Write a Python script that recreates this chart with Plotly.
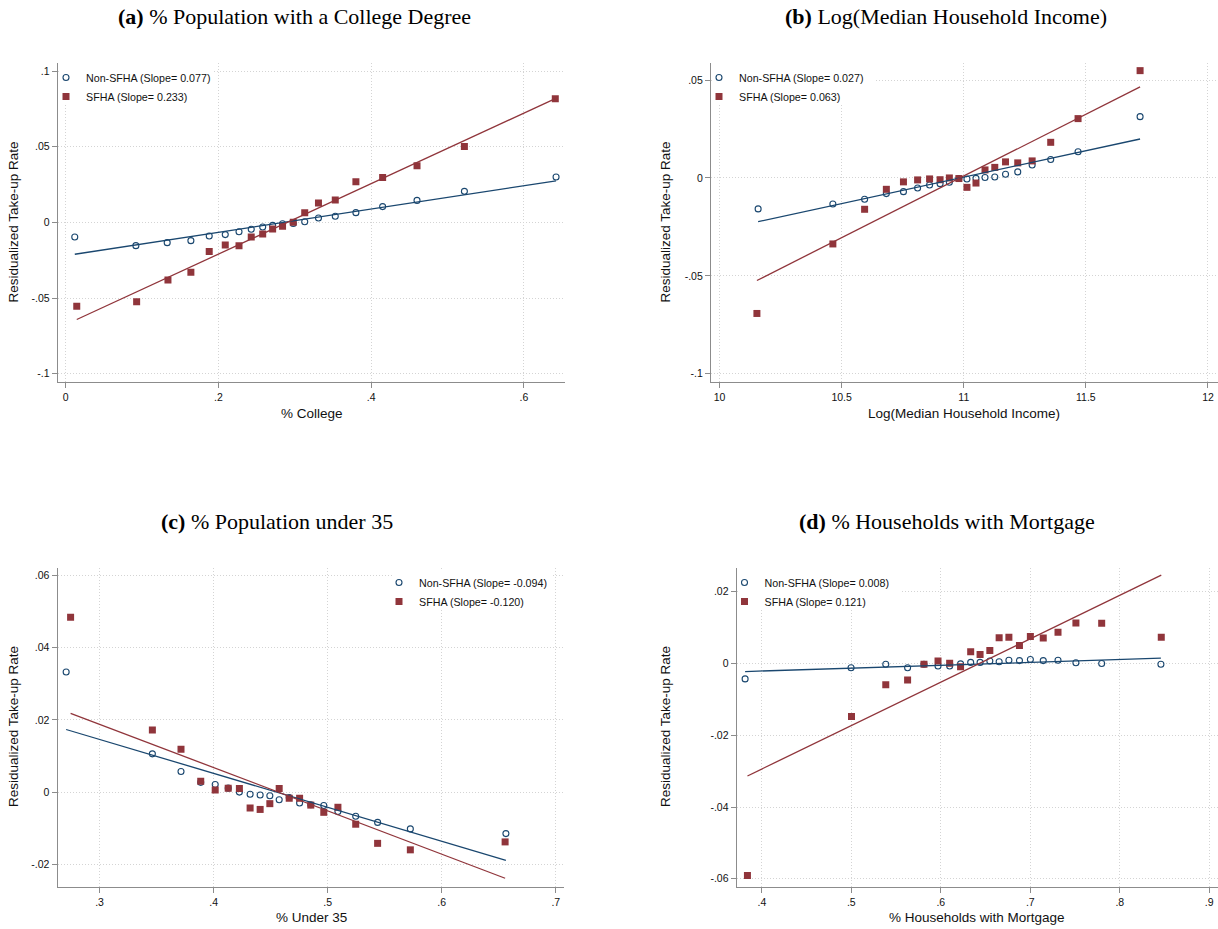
import plotly.graph_objects as go

W, H = 1218, 929

# ---------------- data ----------------
# (a) % College
a_x_non = [0.012, 0.092, 0.133, 0.164, 0.188, 0.209, 0.227, 0.243, 0.258, 0.271,
           0.284, 0.298, 0.313, 0.331, 0.353, 0.380, 0.415, 0.460, 0.522, 0.642]
a_y_non = [-0.0097, -0.0154, -0.0134, -0.0121, -0.0090, -0.0081, -0.0062, -0.0046, -0.0031, -0.0020,
           -0.0009, -0.0007, 0.0004, 0.0029, 0.0040, 0.0064, 0.0104, 0.0145, 0.0205, 0.0300]
a_x_sfha = [0.0146, 0.093, 0.134, 0.164, 0.188, 0.209, 0.227, 0.243, 0.258, 0.271,
            0.284, 0.298, 0.313, 0.331, 0.353, 0.380, 0.415, 0.460, 0.522, 0.641]
a_y_sfha = [-0.0555, -0.0524, -0.0381, -0.0330, -0.0192, -0.0150, -0.0154, -0.0097, -0.0077, -0.0044,
            -0.0026, 0.0000, 0.0064, 0.0128, 0.0148, 0.0269, 0.0297, 0.0374, 0.0502, 0.0817]
a_slope = [0.077, 0.233]
a_icpt = [-0.0220, -0.0676]

# (b) Log(Median Household Income)
b_x_non = [10.158, 10.464, 10.594, 10.683, 10.753, 10.811, 10.860, 10.903, 10.941, 10.980,
           11.013, 11.050, 11.087, 11.127, 11.171, 11.221, 11.280, 11.356, 11.468, 11.722]
b_y_non = [-0.0158, -0.0133, -0.0109, -0.0080, -0.0070, -0.0051, -0.0036, -0.0029, -0.0022, -0.0003,
           -0.0005, -0.0002, 0.0002, 0.0005, 0.0019, 0.0031, 0.0066, 0.0094, 0.0134, 0.0313]
b_x_sfha = [10.153, 10.464, 10.594, 10.683, 10.753, 10.811, 10.860, 10.903, 10.941, 10.980,
            11.013, 11.050, 11.087, 11.127, 11.171, 11.221, 11.280, 11.356, 11.468, 11.722]
b_y_sfha = [-0.0692, -0.0337, -0.0160, -0.0058, -0.0020, -0.0010, -0.0005, -0.0009, 0.0000, -0.0003,
            -0.0048, -0.0026, 0.0041, 0.0054, 0.0082, 0.0077, 0.0087, 0.0182, 0.0303, 0.0548]
b_slope = [0.027, 0.063]
b_icpt = [-0.2966, -0.6920]

# (c) % Under 35
c_x_non = [0.2707, 0.3463, 0.3714, 0.3887, 0.4014, 0.4128, 0.4226, 0.4320, 0.4408, 0.4493,
           0.4575, 0.4663, 0.4754, 0.4852, 0.4966, 0.5090, 0.5246, 0.5438, 0.5725, 0.6563]
c_y_non = [0.0333, 0.0106, 0.0057, 0.0027, 0.0021, 0.0011, 0.0000, -0.0006, -0.0008, -0.0010,
           -0.0021, -0.0015, -0.0030, -0.0035, -0.0037, -0.0054, -0.0067, -0.0084, -0.0102, -0.0115]
c_x_sfha = [0.2746, 0.3463, 0.3714, 0.3887, 0.4014, 0.4128, 0.4226, 0.4320, 0.4408, 0.4493,
            0.4575, 0.4663, 0.4754, 0.4852, 0.4966, 0.5090, 0.5246, 0.5438, 0.5725, 0.6556]
c_y_sfha = [0.0485, 0.0172, 0.0119, 0.0030, 0.0006, 0.0011, 0.0010, -0.0044, -0.0048, -0.0032,
            0.0010, -0.0017, -0.0017, -0.0036, -0.0056, -0.0042, -0.0089, -0.0142, -0.0160, -0.0138]
c_slope = [-0.094, -0.120]
c_icpt = [0.0428, 0.0548]

# (d) % Households with Mortgage
d_x_non = [0.3813, 0.4997, 0.5385, 0.5629, 0.5812, 0.5969, 0.6099, 0.6221, 0.6334, 0.6439,
           0.6548, 0.6652, 0.6761, 0.6879, 0.7001, 0.7145, 0.7310, 0.7510, 0.7798, 0.8460]
d_y_non = [-0.0043, -0.0012, -0.0002, -0.0012, -0.0002, -0.0007, -0.0007, -0.0001, 0.0003, 0.0003,
           0.0007, 0.0005, 0.0009, 0.0008, 0.0011, 0.0008, 0.0009, 0.0002, 0.0000, -0.0002]
d_x_sfha = [0.3839, 0.5002, 0.5385, 0.5629, 0.5812, 0.5969, 0.6099, 0.6221, 0.6334, 0.6439,
            0.6548, 0.6652, 0.6761, 0.6879, 0.7001, 0.7145, 0.7310, 0.7510, 0.7798, 0.8464]
d_y_sfha = [-0.0591, -0.0148, -0.0059, -0.0046, -0.0002, 0.0007, 0.0001, -0.0009, 0.0033, 0.0025,
            0.0036, 0.0072, 0.0073, 0.0050, 0.0075, 0.0071, 0.0087, 0.0113, 0.0112, 0.0073]
d_slope = [0.008, 0.121]
d_icpt = [-0.0053, -0.0778]

# tick labels
a_xtick = [0, 0.2, 0.4, 0.6]; a_xtext = ["0", ".2", ".4", ".6"]
a_ytick = [-0.1, -0.05, 0, 0.05, 0.1]; a_ytext = ["-.1", "-.05", "0", ".05", ".1"]
b_xtick = [10, 10.5, 11, 11.5, 12]; b_xtext = ["10", "10.5", "11", "11.5", "12"]
b_ytick = [-0.1, -0.05, 0, 0.05]; b_ytext = ["-.1", "-.05", "0", ".05"]
c_xtick = [0.3, 0.4, 0.5, 0.6, 0.7]; c_xtext = [".3", ".4", ".5", ".6", ".7"]
c_ytick = [-0.02, 0, 0.02, 0.04, 0.06]; c_ytext = ["-.02", "0", ".02", ".04", ".06"]
d_xtick = [0.4, 0.5, 0.6, 0.7, 0.8, 0.9]; d_xtext = [".4", ".5", ".6", ".7", ".8", ".9"]
d_ytick = [-0.06, -0.04, -0.02, 0, 0.02]; d_ytext = ["-.06", "-.04", "-.02", "0", ".02"]

titles = ["<b>(a)</b> % Population with a College Degree",
          "<b>(b)</b> Log(Median Household Income)",
          "<b>(c)</b> % Population under 35",
          "<b>(d)</b> % Households with Mortgage"]
xtitles = ["% College", "Log(Median Household Income)", "% Under 35", "% Households with Mortgage"]
ytitle = "Residualized Take-up Rate"
series_names = ["Non-SFHA", "SFHA"]

# ---------------- styling / layout ----------------
NAVY = "#1a476f"
MAROON = "#90353b"
SANS = "Liberation Sans, Arial, Helvetica, sans-serif"
SERIF = "Liberation Serif, Times New Roman, serif"
GRID = "#d4d4d4"
AXC = "#8c8c8c"


def fx(p):
    return p / W


def fy(p):
    return 1 - p / H


panels = [
    dict(xn=a_x_non, yn=a_y_non, xs=a_x_sfha, ys=a_y_sfha, slope=a_slope, icpt=a_icpt,
         xt=a_xtick, xtt=a_xtext, yt=a_ytick, ytt=a_ytext,
         xdom=(57.8, 565), ydom=(63, 382), xr=(-0.0102, 0.6537), yr=(-0.1055, 0.1053),
         leg=(46, 63), mask=(59, 214, 63, 104),
         title=(294, 17), xtitle=(311.5, 413), ytitle=(13, 222.5)),
    dict(xn=b_x_non, yn=b_y_non, xs=b_x_sfha, ys=b_y_sfha, slope=b_slope, icpt=b_icpt,
         xt=b_xtick, xtt=b_xtext, yt=b_ytick, ytt=b_ytext,
         xdom=(711, 1218), ydom=(63, 382), xr=(9.965, 12.041), yr=(-0.1042, 0.0587),
         leg=(699, 63), mask=(712, 875, 63, 104),
         title=(946, 17), xtitle=(964, 413), ytitle=(665, 222.5)),
    dict(xn=c_x_non, yn=c_y_non, xs=c_x_sfha, ys=c_y_sfha, slope=c_slope, icpt=c_icpt,
         xt=c_xtick, xtt=c_xtext, yt=c_ytick, ytt=c_ytext,
         xdom=(57.6, 564.3), ydom=(567.7, 887), xr=(0.2632, 0.7075), yr=(-0.0263, 0.0622),
         leg=(379, 568), mask=(394, 552, 569, 609),
         title=(277, 521), xtitle=(311, 917), ytitle=(13, 727)),
    dict(xn=d_x_non, yn=d_y_non, xs=d_x_sfha, ys=d_y_sfha, slope=d_slope, icpt=d_icpt,
         xt=d_xtick, xtt=d_xtext, yt=d_ytick, ytt=d_ytext,
         xdom=(736.7, 1218), ydom=(567.7, 887), xr=(0.3719, 0.9098), yr=(-0.0623, 0.0267),
         leg=(724.5, 568), mask=(738, 900, 568, 609),
         title=(947, 521), xtitle=(977, 917), ytitle=(665, 727)),
]

fig = go.Figure()
layout = dict(width=W, height=H, margin=dict(l=0, r=0, t=0, b=0),
              paper_bgcolor="white", plot_bgcolor="white", showlegend=True,
              font=dict(family=SANS, color="#111111"))
annotations = []
shapes = []

for i, p in enumerate(panels):
    n = i + 1
    xa = "x" if n == 1 else f"x{n}"
    ya = "y" if n == 1 else f"y{n}"
    legname = "legend" if n == 1 else f"legend{n}"

    lab_n = f"{series_names[0]} (Slope= {p['slope'][0]:.3f})"
    lab_s = f"{series_names[1]} (Slope= {p['slope'][1]:.3f})"

    fig.add_trace(go.Scatter(x=p["xn"], y=p["yn"], mode="markers", name=lab_n,
                             xaxis=xa, yaxis=ya, legend=legname,
                             marker=dict(symbol="circle-open", size=6, color=NAVY,
                                         line=dict(width=1.1, color=NAVY))))
    fig.add_trace(go.Scatter(x=p["xs"], y=p["ys"], mode="markers", name=lab_s,
                             xaxis=xa, yaxis=ya, legend=legname,
                             marker=dict(symbol="square", size=7, color=MAROON)))
    # linear fit lines (from the reported slope and the intercept)
    for xs_, b_, a_, col in [(p["xn"], p["slope"][0], p["icpt"][0], NAVY),
                             (p["xs"], p["slope"][1], p["icpt"][1], MAROON)]:
        x0, x1 = min(xs_), max(xs_)
        fig.add_trace(go.Scatter(x=[x0, x1], y=[a_ + b_ * x0, a_ + b_ * x1], mode="lines",
                                 xaxis=xa, yaxis=ya, showlegend=False, hoverinfo="skip",
                                 line=dict(color=col, width=1.3)))

    axcommon = dict(showline=True, linecolor=AXC, linewidth=1.2, ticks="outside",
                    ticklen=5, tickcolor=AXC, tickwidth=1, showgrid=True, gridcolor=GRID,
                    gridwidth=1, griddash="1px,2px", zeroline=False,
                    tickfont=dict(family=SANS, size=10.5, color="#111111"),
                    tickmode="array")
    layout["xaxis" if n == 1 else f"xaxis{n}"] = dict(
        axcommon, domain=[fx(p["xdom"][0]), fx(p["xdom"][1])], range=list(p["xr"]),
        tickvals=p["xt"], ticktext=p["xtt"], anchor=ya)
    layout["yaxis" if n == 1 else f"yaxis{n}"] = dict(
        axcommon, domain=[fy(p["ydom"][1]), fy(p["ydom"][0])], range=list(p["yr"]),
        tickvals=p["yt"], ticktext=p["ytt"], anchor=xa)

    layout[legname] = dict(x=fx(p["leg"][0]), y=fy(p["leg"][1]), xanchor="left", yanchor="top",
                           bgcolor="rgba(0,0,0,0)", borderwidth=0, itemwidth=30,
                           tracegroupgap=0, font=dict(family=SANS, size=10.7, color="#111111"))

    mx0, mx1, my0, my1 = p["mask"]
    shapes.append(dict(type="rect", xref="paper", yref="paper", x0=fx(mx0), x1=fx(mx1),
                       y0=fy(my1), y1=fy(my0), fillcolor="white", line=dict(width=0),
                       layer="above"))

    annotations.append(dict(text=titles[i], x=fx(p["title"][0]), y=fy(p["title"][1]),
                            xref="paper", yref="paper", showarrow=False, xanchor="center",
                            yanchor="middle", font=dict(family=SERIF, size=22, color="black")))
    annotations.append(dict(text=xtitles[i], x=fx(p["xtitle"][0]), y=fy(p["xtitle"][1]),
                            xref="paper", yref="paper", showarrow=False, xanchor="center",
                            yanchor="middle", font=dict(family=SANS, size=13.5, color="#111111")))
    annotations.append(dict(text=ytitle, x=fx(p["ytitle"][0]), y=fy(p["ytitle"][1]),
                            xref="paper", yref="paper", showarrow=False, xanchor="center",
                            yanchor="middle", textangle=-90,
                            font=dict(family=SANS, size=13.5, color="#111111")))

layout["annotations"] = annotations
layout["shapes"] = shapes
fig.update_layout(**layout)
fig.write_html("out.html")
